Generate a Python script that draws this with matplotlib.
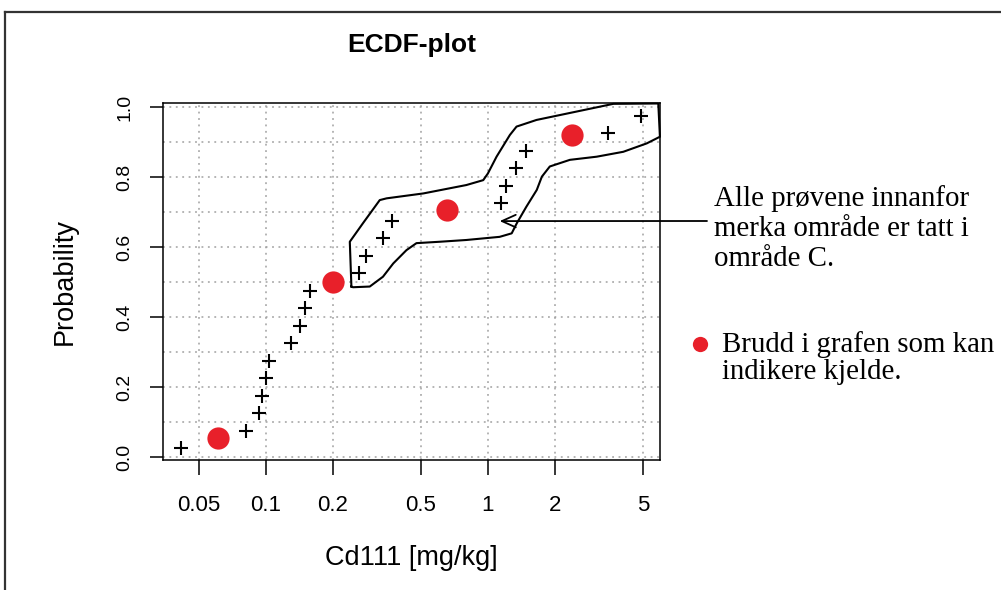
import numpy as np
from matplotlib import pyplot as plt
from matplotlib.lines import Line2D

# ECDF points (Cd111 concentration and plotting probability)
cd111 = [0.0417, 0.0813, 0.093, 0.0957, 0.100, 0.1035, 0.1305, 0.143, 0.150, 0.158,
         0.263, 0.284, 0.338, 0.372, 1.14, 1.21, 1.34, 1.49, 3.48, 4.87]
prob = [0.025, 0.075, 0.125, 0.175, 0.225, 0.275, 0.325, 0.375, 0.425, 0.475,
        0.525, 0.575, 0.625, 0.675, 0.725, 0.775, 0.825, 0.875, 0.925, 0.975]

# red markers: breaks in the curve
break_x = [0.061, 0.200, 0.655, 2.40]
break_y = [0.055, 0.500, 0.705, 0.920]

# hand drawn region around samples from area C
region_x = [0.243, 0.239, 0.274, 0.326, 0.350, 0.512, 0.80, 0.953, 1.00, 1.094,
            1.256, 1.346, 1.656, 2.69, 3.67, 5.85, 5.95, 5.19, 4.07, 3.09,
            2.34, 1.90, 1.75, 1.66, 1.49, 1.35, 1.28, 1.13, 0.80, 0.608,
            0.477, 0.430, 0.375, 0.337, 0.294, 0.247, 0.243]
region_y = [0.487, 0.615, 0.668, 0.734, 0.739, 0.753, 0.777, 0.791, 0.810, 0.858,
            0.920, 0.944, 0.963, 0.991, 1.009, 1.010, 0.915, 0.896, 0.872, 0.858,
            0.849, 0.830, 0.801, 0.763, 0.715, 0.668, 0.639, 0.629, 0.620, 0.615,
            0.611, 0.591, 0.553, 0.515, 0.487, 0.485, 0.487]

xticks = [0.05, 0.1, 0.2, 0.5, 1, 2, 5]
xtick_labels = ['0.05', '0.1', '0.2', '0.5', '1', '2', '5']
yticks = [0.0, 0.2, 0.4, 0.6, 0.8, 1.0]

plt.rcParams['font.family'] = ['Liberation Sans', 'DejaVu Sans']

fig = plt.figure(figsize=(10.01, 5.90), dpi=100)
W, H = 1001, 590
ax = fig.add_axes([163 / W, 1 - 460 / H, 497 / W, 357 / H])
ax.set_xscale('log')
ax.set_xlim(0.03447, 5.955)
ax.set_ylim(-0.0086, 1.0114)

ax.set_xticks(xticks)
ax.set_xticklabels(xtick_labels)
ax.xaxis.set_minor_locator(plt.NullLocator())
ax.set_yticks(yticks)
ax.set_yticklabels(['%.1f' % v for v in yticks])
ax.set_yticks(np.arange(0, 1.01, 0.1), minor=True)

grid_kw = dict(color='#a0a0a0', linestyle=(0, (1.2, 3)), linewidth=1.1)
ax.grid(True, which='major', axis='both', **grid_kw)
ax.grid(True, which='minor', axis='y', **grid_kw)
ax.set_axisbelow(True)

ax.tick_params(axis='x', which='major', length=11, width=1.1, pad=14,
               labelsize=16, direction='out')
ax.tick_params(axis='y', which='major', length=9.4, width=1.1, pad=12,
               labelsize=14, labelrotation=90, direction='out')
ax.tick_params(axis='y', which='minor', length=0)
for lab in ax.get_yticklabels():
    lab.set_va('center')
for sp in ax.spines.values():
    sp.set_linewidth(1.1)

ax.plot(cd111, prob, linestyle='none', marker='+', markersize=10,
        markeredgewidth=1.5, color='black', zorder=3)
ax.plot(break_x, break_y, linestyle='none', marker='o', markersize=16,
        markeredgewidth=0, color='#e8202a', zorder=4)
ax.plot(region_x, region_y, color='black', linewidth=1.5, clip_on=False, zorder=5)

ax.set_title('ECDF-plot', fontsize=19, fontweight='bold', pad=36.5)
ax.set_xlabel('Cd111 [mg/kg]', fontsize=19.5)
ax.xaxis.set_label_coords(0.5, -0.238)
ax.set_ylabel('Probability', fontsize=19.5)
ax.yaxis.set_label_coords(-0.171, 0.5)

# annotation arrow pointing into the marked region
ax.annotate('', xy=(1.13, 0.674), xycoords='data',
            xytext=(707, H - 221), textcoords='figure pixels',
            arrowprops=dict(arrowstyle='->, head_length=1.0, head_width=0.45',
                            color='black', lw=1.3, shrinkA=0, shrinkB=0),
            annotation_clip=False)

serif = ['Liberation Serif', 'DejaVu Serif']
fig.text(714 / W, 1 - 185 / H, 'Alle prøvene innanfor\nmerka område er tatt i\nområde C.',
         family=serif, fontsize=20.8, ha='left', va='top', linespacing=1.2)
fig.add_artist(Line2D([700 / W], [1 - 344 / H], marker='o', markersize=11,
                      color='#e8202a', markeredgewidth=0, transform=fig.transFigure))
fig.text(722 / W, 1 - 331 / H, 'Brudd i grafen som kan\nindikere kjelde.',
         family=serif, fontsize=20.8, ha='left', va='top', linespacing=1.06)

# outer frame (only left and top edges fall inside the image)
fig.add_artist(Line2D([5 / W, 5 / W], [0, 1 - 12 / H], color='#333333',
                      linewidth=1.6, transform=fig.transFigure))
fig.add_artist(Line2D([5 / W, 1], [1 - 12 / H, 1 - 12 / H], color='#333333',
                      linewidth=1.6, transform=fig.transFigure))

fig.savefig('out.png', dpi=100)
